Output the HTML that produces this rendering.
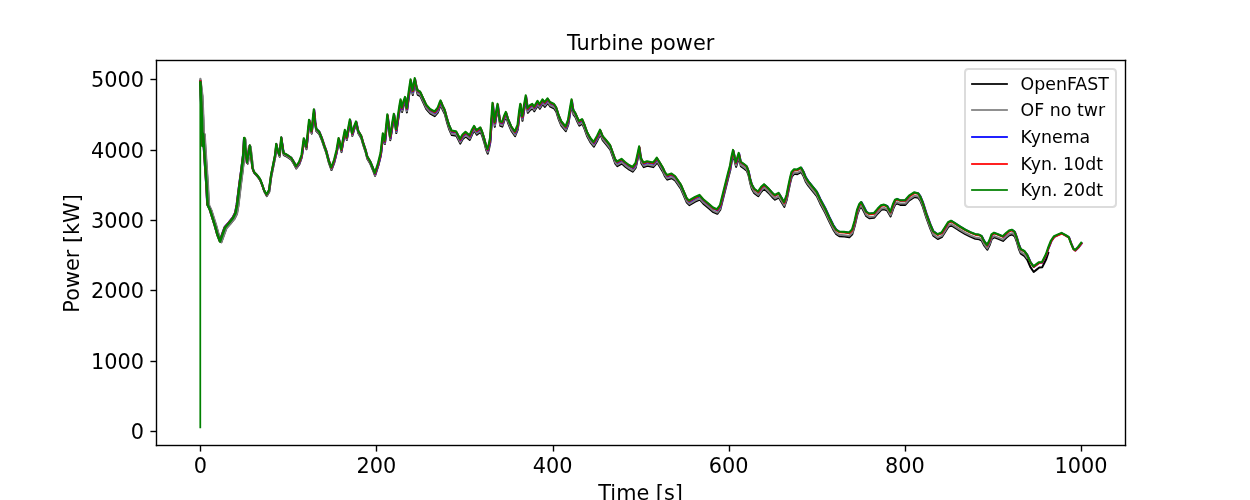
<!DOCTYPE html>
<html lang="en">
<head>
<meta charset="utf-8">
<title>Turbine power</title>
<style>
html,body{margin:0;padding:0;background:#ffffff;}
body{width:1250px;height:500px;overflow:hidden;}
svg{display:block;}
text{font-family:'DejaVu Sans','Liberation Sans',sans-serif;fill:#000000;}
.tick{font-size:20.833px;}
.leg{font-size:17.361px;}
.ln{fill:none;stroke-width:1.74;stroke-linejoin:round;stroke-linecap:square;}
.ax{stroke:#000000;stroke-width:1.39;fill:none;stroke-linecap:square;}
</style>
</head>
<body>
<svg width="1250" height="500" viewBox="0 0 1250 500">
<rect x="0" y="0" width="1250" height="500" fill="#ffffff"/>
<defs><clipPath id="axclip"><rect x="156.25" y="60" width="968.75" height="385"/></clipPath></defs>
<g id="xaxis">
<line class="ax" x1="200.5" y1="445.5" x2="200.5" y2="451.58" style="stroke-linecap:butt"/><text class="tick" x="200.28" y="472.98" text-anchor="middle">0</text>
<line class="ax" x1="376.5" y1="445.5" x2="376.5" y2="451.58" style="stroke-linecap:butt"/><text class="tick" x="376.42" y="472.98" text-anchor="middle">200</text>
<line class="ax" x1="553.5" y1="445.5" x2="553.5" y2="451.58" style="stroke-linecap:butt"/><text class="tick" x="552.56" y="472.98" text-anchor="middle">400</text>
<line class="ax" x1="729.5" y1="445.5" x2="729.5" y2="451.58" style="stroke-linecap:butt"/><text class="tick" x="728.69" y="472.98" text-anchor="middle">600</text>
<line class="ax" x1="905.5" y1="445.5" x2="905.5" y2="451.58" style="stroke-linecap:butt"/><text class="tick" x="904.83" y="472.98" text-anchor="middle">800</text>
<line class="ax" x1="1081.5" y1="445.5" x2="1081.5" y2="451.58" style="stroke-linecap:butt"/><text class="tick" x="1080.97" y="472.98" text-anchor="middle">1000</text>
<text class="tick" x="640.62" y="500.09" text-anchor="middle">Time [s]</text>
</g>
<g id="yaxis">
<line class="ax" x1="156.5" y1="431.5" x2="150.42" y2="431.5" style="stroke-linecap:butt"/><text class="tick" x="144.1" y="438.92" text-anchor="end">0</text>
<line class="ax" x1="156.5" y1="361.5" x2="150.42" y2="361.5" style="stroke-linecap:butt"/><text class="tick" x="144.1" y="368.52" text-anchor="end">1000</text>
<line class="ax" x1="156.5" y1="290.5" x2="150.42" y2="290.5" style="stroke-linecap:butt"/><text class="tick" x="144.1" y="298.12" text-anchor="end">2000</text>
<line class="ax" x1="156.5" y1="220.5" x2="150.42" y2="220.5" style="stroke-linecap:butt"/><text class="tick" x="144.1" y="227.72" text-anchor="end">3000</text>
<line class="ax" x1="156.5" y1="150.5" x2="150.42" y2="150.5" style="stroke-linecap:butt"/><text class="tick" x="144.1" y="158.32" text-anchor="end">4000</text>
<line class="ax" x1="156.5" y1="79.5" x2="150.42" y2="79.5" style="stroke-linecap:butt"/><text class="tick" x="144.1" y="86.92" text-anchor="end">5000</text>
<text class="tick" x="78.8" y="253.4" text-anchor="middle" transform="rotate(-90 78.8 253.4)">Power [kW]</text>
</g>
<g id="lines" clip-path="url(#axclip)">
<path class="ln" stroke="#000000" style="stroke-width:2.2;stroke-linecap:round" d="M200.4 80.4 L202.2 96.42 L203.2 120.43 L203.8 146.44 L204.4 134.45 L205.2 147.46 L205.7 155.47 L206.7 170.48 L207.7 185.5 L208.5 200.51 L208.8 205.51 L211.2 210.55 L213.7 218.59 L216.2 226.62 L218.7 235.66 L221.2 242.2 L224.2 233.75 L226.2 228.28 L230.2 223.84 L234.2 218.9 L236.68 213.93 L238.13 205.96 L240.54 185.99 L242.47 171.03 L244.2 156.08"/>
<path class="ln" stroke="#000000" style="stroke-width:2" d="M244.2 156.08 L245.17 139.2 L246.61 153.14 L247.77 163.66 L249.31 154.2 L250.47 146.63 L251.62 156.26 L253.07 169.29 L254.52 173.33 L257.41 176.4 L260.3 180.47 L262.3 185.51 L264.3 191.56 L266.8 196.12 L269.3 191.68 L271.3 176.72 L273.3 166.77 L275.3 156.82 L276.5 145.74 L277.9 151.88 L279.7 156.72 L281.5 139.36 L282.7 147.99 L283.8 155.01 L287.3 156.9 L291.3 159.69 L293.8 163.75 L296.3 168.51 L299.3 164.38 L301.8 157.41 L304 140.82 L305.3 145.43 L306.5 149.23 L307.9 135.44 L309.3 122.34 L310.6 128.45 L311.7 133.66 L312.9 122.46 L314.1 111.87 L315.3 124.47 L316.3 130.98 L319.3 134 L321.8 140.01 L324.3 147.52 L326.3 153.03 L328.8 162.54 L331.5 170.06 L334.3 162.57 L336.8 152.58 L338.8 140.69 L340.3 146.6 L341.5 152.11 L343.3 141.62 L345.1 132.52 L346.8 140.03 L348.5 130.64 L350.1 122.05 L351.3 129.66 L352.3 135.86 L354.3 129.17 L356.3 124.08 L358.3 133.19 L361.3 138.21 L363.3 145.22 L365.8 152.73 L367.3 158.74 L370.3 163.75 L372.8 169.76 L375.1 175.77 L378.3 165.79 L380.8 155.83 L383.1 136.37 L384.9 144.08 L386.3 130.16 L387.6 117.64 L389.1 130.33 L390.3 140.2 L392.3 127.52 L394.1 117.33 L395.3 125.7 L396.3 133.06 L398.3 118.88 L399.8 108.97 L400.8 103.43 L402.1 111.91 L403.8 105.21 L405.3 101.2 L406.9 112.4 L408.8 97.51 L410.8 84 L411.9 90.6 L412.8 95.1 L413.9 88.6 L415 82.7 L416.3 89.6 L417.8 94.9 L420.3 96.1 L423.3 102.6 L426.3 109.1 L430.3 113.6 L434.8 116.1 L437.8 112.6 L439.5 108.1 L440.8 105.01 L442.8 110.11 L444.8 114.11 L446.8 121.61 L449.3 129.61 L451.8 135.11 L456.3 135.81 L458.3 139.61 L460.3 143.61 L462.8 139.11 L465.8 136.51 L469.8 139.91 L472.3 134.11 L474.3 130.51 L476.8 134.81 L480.6 132.01 L482.3 136.11 L484.3 142.61 L486.1 149.61 L487.7 153.61 L489.1 148.61 L490.3 142.61 L491.5 124.61 L492.8 107.31 L493.9 118.61 L494.8 126.81 L496.3 116.61 L497.8 108.51 L499.1 118.62 L500.3 125.92 L502.3 126.62 L504.3 120.62 L506.1 116.52 L508.3 123.62 L511.3 130.62 L515.1 136.12 L517.8 129.62 L519.3 116.62 L520.6 108.32 L521.6 115.62 L522.5 120.82 L524.3 109.62 L526 100.02 L526.9 106.62 L527.8 112.82 L530.3 109.82 L532.5 108.52 L534.3 111.32 L537.8 105.52 L539.8 108.82 L542.8 104.02 L544.8 106.82 L547.8 103.02 L550.3 106.62 L554.3 108.62 L556.3 111.62 L558.8 119.63 L561.3 125.63 L565.8 131.13 L568.3 124.63 L570.3 112.63 L571.8 104.03 L572.7 110.63 L573.5 114.63 L575.3 116.93 L577.3 121.63 L579.3 125.63 L582.3 123.63 L584.8 129.63 L587.3 136.63 L590.3 142.13 L593.8 146.63 L597.3 140.63 L600.3 134.33 L602.8 140.43 L606.3 144.63 L610.3 149.63 L612.8 156.63 L615.3 163.63 L617.3 166.14 L621.8 163.54 L625.3 166.64 L629.3 169.64 L632.8 171.64 L635.8 167.64 L637.8 158.64 L639.4 151.04 L640.3 157.64 L641.3 163.14 L643.8 167.14 L647.3 165.84 L653.3 167.14 L655.3 164.84 L657.1 162.34 L659.8 166.64 L662.8 171.64 L664.8 176.14 L667.3 179.64 L671.8 178.24 L675.3 180.64 L680.8 188.65 L683.8 195.65 L686.8 202.65 L689.3 205.15 L695.3 201.65 L699.8 199.55 L703.3 203.65 L709.3 208.65 L713.3 212.15 L717.3 213.85 L720.3 209.65 L723.3 197.65 L726.3 185.65 L728.3 177.65 L730.3 170.15 L731.8 161.15 L733.3 154.55 L734.8 161.66 L736.1 166.86 L737.7 161.66 L739 157.56 L740.8 166.16 L744.3 168.66 L746.8 170.66 L748.5 175.16 L750.1 182.66 L751.8 188.66 L754.3 193.16 L758.3 196.16 L761.3 191.66 L764.3 188.86 L768.3 192.66 L772.3 197.16 L775 199.66 L778.8 197.56 L781.3 201.66 L784.3 206.86 L786.8 199.66 L788.8 189.66 L790.5 181.66 L791.8 176.66 L794.3 173.87 L797.3 174.17 L801.1 172.07 L803.3 175.67 L805.7 181.67 L808.3 185.67 L812.3 190.67 L816.8 196.17 L820.3 203.67 L825.3 212.97 L829.3 221.67 L833.3 229.67 L836.3 234.17 L839.3 236.17 L844.3 236.57 L849.3 237.17 L852.3 234.17 L854.8 225.68 L857.3 214.68 L859.6 208.68 L861.4 206.68 L863.8 211.18 L866.3 216.18 L869.3 218.18 L874.3 217.68 L877.8 213.48 L881.3 209.88 L884.3 209.28 L887.3 210.68 L890.6 216.48 L893.3 208.68 L895.3 204.38 L897.3 203.58 L900.3 204.88 L905.3 204.88 L909.3 200.38 L914.3 197.09 L918.3 197.89 L920.3 200.69 L922.8 206.69 L926.3 217.69 L930.3 228.69 L933.3 235.69 L937.8 238.99 L941.8 237.19 L945.3 231.69 L948.3 226.89 L951.3 225.39 L955.3 227.89 L960.3 231.19 L965.3 234.19 L970.3 236.69 L975.3 238.7 L979.3 239.3 L981.8 240.7 L984.3 245.7 L987.3 249.7 L989.8 244.7 L991.8 239 L994.3 237.4 L998.3 238.9 L1003 240.91 L1006.3 237.73 L1009.3 235.34 L1012.1 234.46 L1014.8 236.37 L1016.8 241.78 L1018.8 248.79 L1020.8 253.63 L1024.6 256.06 L1027.3 259.83 L1030.3 266.92 L1033.7 271.98 L1036.3 269.86 L1039.3 267.52 L1042.3 267.18 L1044.7 262.26 L1046.3 258.99 L1048.3 252.89"/>
<path class="ln" stroke="#808080" style="stroke-width:2.2;stroke-linecap:round" d="M200.4 78.9 L202.5 96.22 L203.5 120.23 L204.1 146.24 L204.7 134.25 L205.5 147.26 L206 155.27 L207 170.28 L208 185.3 L208.8 200.31 L209.1 205.31 L211.5 210.35 L214 218.39 L216.5 226.43 L219 235.46 L221.5 242 L224.5 233.54 L226.5 228.07 L230.5 223.63 L234.5 218.69 L236.98 213.73 L238.4 205.75 L240.78 185.79 L242.69 170.83 L244.4 155.86"/>
<path class="ln" stroke="#808080" style="stroke-width:2" d="M244.4 155.86 L245.35 138.98 L246.78 152.91 L247.92 163.43 L249.45 153.96 L250.59 146.38 L251.73 156 L253.16 169.03 L254.59 173.06 L257.44 176.11 L260.3 180.17 L262.3 185.2 L264.3 191.24 L266.8 195.79 L269.3 191.33 L271.3 176.37 L273.3 166.41 L275.3 156.44 L276.5 145.36 L277.9 151.49 L279.7 156.32 L281.5 138.96 L282.7 147.58 L283.8 154.6 L287.3 156.46 L291.3 159.24 L293.8 163.28 L296.3 168.03 L299.3 163.88 L301.8 156.91 L304 140.31 L305.3 144.92 L306.5 148.72 L307.9 134.93 L309.3 121.83 L310.6 127.94 L311.7 133.14 L312.9 121.95 L314.1 111.35 L315.3 123.96 L316.3 130.46 L319.3 133.47 L321.8 139.48 L324.3 146.99 L326.3 152.5 L328.8 162.01 L331.5 169.52 L334.3 162.03 L336.8 152.04 L338.8 140.14 L340.3 146.05 L341.5 151.55 L343.3 141.06 L345.1 131.97 L346.8 139.47 L348.5 130.08 L350.1 121.49 L351.3 129.09 L352.3 135.29 L354.3 128.6 L356.3 123.51 L358.3 132.62 L361.3 137.63 L363.3 144.64 L365.8 152.15 L367.3 158.15 L370.3 163.16 L372.8 169.17 L375.1 175.18 L378.3 165.19 L380.8 155.22 L383.1 135.7 L384.9 143.37 L386.3 129.42 L387.6 116.87 L389.1 129.52 L390.3 139.37 L392.3 126.64 L394.1 116.41 L395.3 124.75 L396.3 132.09 L398.3 117.86 L399.8 107.92 L400.8 102.35 L402.1 110.8 L403.8 104.06 L405.3 100.02 L406.9 111.18 L408.8 96.25 L410.8 82.7 L411.9 89.3 L412.8 93.8 L413.9 87.3 L415 81.4 L416.3 88.3 L417.8 93.6 L420.3 94.8 L423.3 101.3 L426.3 107.8 L430.3 112.3 L434.8 114.8 L437.8 111.3 L439.5 106.8 L440.8 103.71 L442.8 108.81 L444.8 112.81 L446.8 120.31 L449.3 128.31 L451.8 133.81 L456.3 134.51 L458.3 138.31 L460.3 142.31 L462.8 137.81 L465.8 135.21 L469.8 138.61 L472.3 132.81 L474.3 129.21 L476.8 133.51 L480.6 130.71 L482.3 134.81 L484.3 141.31 L486.1 148.31 L487.7 152.31 L489.1 147.31 L490.3 141.31 L491.5 123.31 L492.8 106.01 L493.9 117.31 L494.8 125.51 L496.3 115.31 L497.8 107.21 L499.1 117.32 L500.3 124.62 L502.3 125.32 L504.3 119.32 L506.1 115.22 L508.3 122.32 L511.3 129.32 L515.1 134.82 L517.8 128.32 L519.3 115.32 L520.6 107.02 L521.6 114.32 L522.5 119.52 L524.3 108.32 L526 98.72 L526.9 105.32 L527.8 111.52 L530.3 108.52 L532.5 107.22 L534.3 110.02 L537.8 104.22 L539.8 107.52 L542.8 102.72 L544.8 105.52 L547.8 101.72 L550.3 105.32 L554.3 107.32 L556.3 110.32 L558.8 118.33 L561.3 124.33 L565.8 129.83 L568.3 123.33 L570.3 111.33 L571.8 102.73 L572.7 109.33 L573.5 113.33 L575.3 115.63 L577.3 120.33 L579.3 124.33 L582.3 122.33 L584.8 128.33 L587.3 135.33 L590.3 140.83 L593.8 145.33 L597.3 139.33 L600.3 133.03 L602.8 139.13 L606.3 143.33 L610.3 148.33 L612.8 155.33 L615.3 162.33 L617.3 164.84 L621.8 162.24 L625.3 165.34 L629.3 168.34 L632.8 170.34 L635.8 166.34 L637.8 157.34 L639.4 149.74 L640.3 156.34 L641.3 161.84 L643.8 165.84 L647.3 164.54 L653.3 165.84 L655.3 163.54 L657.1 161.04 L659.8 165.34 L662.8 170.34 L664.8 174.84 L667.3 178.34 L671.8 176.94 L675.3 179.34 L680.8 187.35 L683.8 194.35 L686.8 201.35 L689.3 203.85 L695.3 200.35 L699.8 198.25 L703.3 202.35 L709.3 207.35 L713.3 210.85 L717.3 212.55 L720.3 208.35 L723.3 196.35 L726.3 184.35 L728.3 176.35 L730.3 168.85 L731.8 159.85 L733.3 153.25 L734.8 160.35 L736.1 165.56 L737.7 160.36 L739 156.26 L740.8 164.86 L744.3 167.36 L746.8 169.36 L748.5 173.86 L750.1 181.36 L751.8 187.36 L754.3 191.86 L758.3 194.86 L761.3 190.36 L764.3 187.56 L768.3 191.36 L772.3 195.86 L775 198.36 L778.8 196.26 L781.3 200.36 L784.3 205.56 L786.8 198.36 L788.8 188.36 L790.5 180.36 L791.8 175.36 L794.3 172.57 L797.3 172.87 L801.1 170.77 L803.3 174.37 L805.7 180.37 L808.3 184.37 L812.3 189.37 L816.8 194.87 L820.3 202.37 L825.3 211.67 L829.3 220.37 L833.3 228.37 L836.3 232.87 L839.3 234.87 L844.3 235.27 L849.3 235.87 L852.3 232.87 L854.8 224.38 L857.3 213.38 L859.6 207.38 L861.4 205.38 L863.8 209.88 L866.3 214.88 L869.3 216.88 L874.3 216.38 L877.8 212.18 L881.3 208.58 L884.3 207.98 L887.3 209.38 L890.6 215.18 L893.3 207.38 L895.3 203.08 L897.3 202.28 L900.3 203.58 L905.3 203.58 L909.3 199.08 L914.3 195.79 L918.3 196.59 L920.3 199.39 L922.8 205.39 L926.3 216.39 L930.3 227.39 L933.3 234.39 L937.8 237.69 L941.8 235.89 L945.3 230.39 L948.3 225.59 L951.3 224.09 L955.3 226.59 L960.3 229.89 L965.3 232.89 L970.3 235.39 L975.3 237.4 L979.3 238 L981.8 239.4 L984.3 244.4 L987.3 248.4 L989.8 243.4 L991.8 237.7 L994.3 236.1 L998.3 237.6 L1003 239.6 L1006.3 236.4 L1009.3 234 L1012.1 233.1 L1014.8 235 L1016.8 240.4 L1018.8 247.4 L1020.8 252.2 L1024.6 254.4 L1027.3 258"/>
<path class="ln" stroke="#0000ff" style="stroke-width:2.2;stroke-linecap:round" d="M200.4 81.4 L200.7 95.3 L201.7 119.31 L202.3 145.31 L202.9 133.31 L203.7 146.31 L204.2 154.31 L205.2 169.32 L206.2 184.32 L207 199.32 L207.3 204.32 L209.7 209.33 L212.2 217.33 L214.7 225.34 L217.2 234.35 L219.7 240.86 L222.7 232.36 L224.7 226.87 L228.7 222.38 L232.7 217.39 L235.2 212.4 L236.7 204.5 L239.2 184.75 L241.22 169.95 L243.04 155.01 L244.06 138.11"/>
<path class="ln" stroke="#0000ff" style="stroke-width:2" d="M244.06 138.11 L245.58 152.02 L246.79 162.53 L248.41 153.03 L249.63 145.44 L250.85 155.05 L252.37 168.05 L253.89 172.06 L256.93 175.08 L259.97 179.09 L261.99 184.1 L264.02 190.11 L266.55 194.63 L269.09 190.14 L271.11 175.15 L273.14 165.16 L275.17 155.17 L276.38 144.08 L277.8 150.18 L279.63 154.99 L281.45 137.6 L282.67 146.21 L283.78 153.21 L287.33 155.03 L291.38 157.75 L293.91 161.77 L296.45 166.48 L299.49 162.29 L302 155.31 L304.2 138.74 L305.5 143.35 L306.7 147.16 L308.1 133.38 L309.5 120.29 L310.8 126.4 L311.9 131.61 L313.1 120.43 L314.3 109.84 L315.5 122.45 L316.5 128.96 L319.5 131.99 L322 138.01 L324.5 145.54 L326.5 151.06 L329 160.59 L331.7 168.11 L334.5 160.64 L337 150.66 L339 138.78 L340.5 144.7 L341.7 150.21 L343.5 139.73 L345.3 130.65 L347 138.16 L348.7 128.78 L350.3 120.2 L351.5 127.81 L352.5 134.02 L354.5 127.34 L356.5 122.26 L358.5 131.38 L361.5 136.41 L363.5 143.43 L366 150.96 L367.5 156.97 L370.5 162 L373 168.03 L375.3 174.05 L378.5 164.08 L381 154.1 L383.3 134.53 L385.1 142.15 L386.5 128.16 L387.8 115.57 L389.3 128.19 L390.5 138 L392.5 125.22 L394.3 114.94 L395.5 123.25 L396.5 130.56 L398.5 116.28 L400 106.3 L401 100.7 L402.3 109.1 L404 102.3 L405.5 98.2 L407.1 109.3 L409 94.3 L411 80.7 L412.1 87.3 L413 91.8 L414.1 85.3 L415.2 79.4 L416.5 86.29 L418 91.59 L420.5 92.79 L423.5 99.29 L426.5 105.79 L430.5 110.29 L435 112.79 L438 109.29 L439.7 104.79 L441 101.69 L443 106.79 L445 110.79 L447 118.28 L449.5 126.28 L452 131.78 L456.5 132.48 L458.5 136.28 L460.5 140.28 L463 135.78 L466 133.18 L470 136.58 L472.5 130.78 L474.5 127.18 L477 131.47 L480.8 128.67 L482.5 132.77 L484.5 139.27 L486.3 146.27 L487.9 150.27 L489.3 145.27 L490.5 139.27 L491.7 121.27 L493 103.97 L494.1 115.27 L495 123.47 L496.5 113.27 L498 105.17 L499.3 115.27 L500.5 122.57 L502.5 123.27 L504.5 117.27 L506.3 113.16 L508.5 120.26 L511.5 127.26 L515.3 132.76 L518 126.26 L519.5 113.26 L520.8 104.96 L521.8 112.26 L522.7 117.46 L524.5 106.26 L526.2 96.66 L527.1 103.26 L528 109.46 L530.5 106.46 L532.7 105.16 L534.5 107.96 L538 102.15 L540 105.45 L543 100.65 L545 103.45 L548 99.65 L550.5 103.25 L554.5 105.25 L556.5 108.25 L559 116.25 L561.5 122.25 L566 127.74 L568.5 121.24 L570.5 109.24 L572 100.64 L572.9 107.24 L573.7 111.24 L575.5 113.54 L577.5 118.24 L579.5 122.24 L582.5 120.24 L585 126.24 L587.5 133.24 L590.5 138.74 L594 143.24 L597.5 137.23 L600.5 130.93 L603 137.03 L606.5 141.23 L610.5 146.23 L613 153.23 L615.5 160.23 L617.5 162.73 L622 160.13 L625.5 163.22 L629.5 166.22 L633 168.22 L636 164.22 L638 155.22 L639.6 147.62 L640.5 154.22 L641.5 159.72 L644 163.72 L647.5 162.42 L653.5 163.72 L655.5 161.41 L657.3 158.91 L660 163.21 L663 168.21 L665 172.71 L667.5 176.21 L672 174.81 L675.5 177.21 L681 185.21 L684 192.21 L687 199.2 L689.5 201.7 L695.5 198.2 L700 196.1 L703.5 200.18 L709.5 205.13 L713.5 208.6 L717.5 210.27 L720.5 206.05 L723.5 194.02 L726.5 182 L728.5 173.98 L730.5 166.47 L732 157.46 L733.5 150.85 L735 157.93 L736.3 163.12 L737.9 157.91 L739.2 153.8 L741 162.39 L744.5 164.86 L747 166.84 L748.7 171.33 L750.3 178.82 L752 184.8 L754.5 189.28 L758.5 192.25 L761.5 187.73 L764.5 184.91 L768.5 188.68 L772.5 193.15 L775.2 195.63 L779 193.5 L781.5 197.58 L784.5 202.75 L787 195.53 L789 185.52 L790.7 177.51 L792 172.5 L794.5 169.68 L797.5 169.95 L801.3 167.82 L803.5 171.41 L805.9 177.39 L808.5 181.37 L812.5 186.34 L817 191.8 L820.5 199.28 L825.5 208.54 L829.5 217.21 L833.5 225.2 L836.5 229.71 L839.5 231.71 L844.5 232.12 L849.5 232.73 L852.5 229.73 L855 221.24 L857.5 210.24 L859.8 204.24 L861.6 202.25 L864 206.75 L866.5 211.75 L869.5 213.76 L874.5 213.27 L878 209.07 L881.5 205.48 L884.5 204.88 L887.5 206.28 L890.8 212.09 L893.5 204.29 L895.5 200 L897.5 199.2 L900.5 200.5 L905.5 200.51 L909.5 196.02 L914.5 192.72 L918.5 193.53 L920.5 196.33 L923 202.34 L926.5 213.34 L930.5 224.35 L933.5 231.35 L938 234.66 L942 232.87 L945.5 227.37 L948.5 222.57 L951.5 221.08 L955.5 223.59 L960.5 226.89 L965.5 229.9 L970.5 232.41 L975.5 234.41 L979.5 235.02 L982 236.42 L984.5 241.43 L987.5 245.43 L990 240.44 L992 234.74 L994.5 233.14 L998.5 234.65 L1003.2 236.66 L1006.5 233.46 L1009.5 231.07 L1012.3 230.17 L1015 232.07 L1017 237.48 L1019 244.48 L1021 249.28 L1024.8 251.49 L1027.5 255.09 L1030.5 262 L1033.9 266.9 L1036.5 264.91 L1039.5 262.71 L1042.5 262.51 L1044.9 257.72 L1046.5 254.52 L1048.5 248.52 L1051.5 241.03 L1054.5 236.73 L1058.5 234.94 L1062 233.44 L1065.9 235.55 L1069.2 237.55 L1071.3 243.36 L1073.7 249.16 L1075.5 250.56 L1078.5 247.57 L1081.7 243.37"/>
<path class="ln" stroke="#ff0000" style="stroke-width:2.2;stroke-linecap:round" d="M200.4 81 L200.8 95.6 L201.8 119.61 L202.4 145.61 L203 133.61 L203.8 146.61 L204.3 154.61 L205.3 169.62 L206.3 184.62 L207.1 199.62 L207.4 204.62 L209.8 209.63 L212.3 217.63 L214.8 225.64 L217.3 234.65 L219.8 241.16 L222.8 232.66 L224.8 227.17 L228.8 222.68 L232.8 217.69 L235.3 212.7 L236.8 204.75 L239.3 184.88 L241.31 169.97 L243.13 155.01 L244.14 138.11"/>
<path class="ln" stroke="#ff0000" style="stroke-width:2" d="M244.14 138.11 L245.65 152.02 L246.86 162.53 L248.47 153.03 L249.68 145.44 L250.89 155.05 L252.4 168.05 L253.92 172.06 L256.94 175.08 L259.97 179.09 L261.98 184.1 L264 190.11 L266.52 194.63 L269.04 190.14 L271.06 175.15 L273.07 165.16 L275.09 155.17 L276.3 144.08 L277.71 150.18 L279.53 154.99 L281.34 137.6 L282.55 146.21 L283.66 153.21 L287.19 155.03 L291.23 157.75 L293.75 161.77 L296.27 166.48 L299.29 162.29 L301.8 155.31 L304 138.72 L305.3 143.32 L306.5 147.13 L307.9 133.34 L309.3 120.25 L310.6 126.35 L311.7 131.56 L312.9 120.36 L314.1 109.77 L315.3 122.38 L316.3 128.88 L319.3 131.9 L321.8 137.91 L324.3 145.42 L326.3 150.93 L328.8 160.44 L331.5 167.96 L334.3 160.47 L336.8 150.48 L338.8 138.59 L340.3 144.5 L341.5 150.01 L343.3 139.51 L345.1 130.42 L346.8 137.93 L348.5 128.54 L350.1 119.95 L351.3 127.56 L352.3 133.76 L354.3 127.07 L356.3 121.98 L358.3 131.09 L361.3 136.1 L363.3 143.12 L365.8 150.63 L367.3 156.63 L370.3 161.65 L372.8 167.66 L375.1 173.67 L378.3 163.69 L380.8 153.7 L383.1 134.11 L384.9 141.72 L386.3 127.73 L387.6 115.14 L389.1 127.74 L390.3 137.55 L392.3 124.76 L394.1 114.47 L395.3 122.78 L396.3 130.08 L398.3 115.79 L399.8 105.8 L400.8 100.2 L402.1 108.6 L403.8 101.8 L405.3 97.7 L406.9 108.8 L408.8 93.8 L410.8 80.2 L411.9 86.8 L412.8 91.3 L413.9 84.8 L415 78.9 L416.3 85.8 L417.8 91.09 L420.3 92.29 L423.3 98.79 L426.3 105.29 L430.3 109.79 L434.8 112.29 L437.8 108.79 L439.5 104.29 L440.8 101.19 L442.8 106.29 L444.8 110.29 L446.8 117.79 L449.3 125.79 L451.8 131.29 L456.3 131.98 L458.3 135.78 L460.3 139.78 L462.8 135.28 L465.8 132.68 L469.8 136.08 L472.3 130.28 L474.3 126.68 L476.8 130.98 L480.6 128.18 L482.3 132.28 L484.3 138.78 L486.1 145.78 L487.7 149.78 L489.1 144.77 L490.3 138.77 L491.5 120.77 L492.8 103.47 L493.9 114.77 L494.8 122.97 L496.3 112.77 L497.8 104.67 L499.1 114.77 L500.3 122.07 L502.3 122.77 L504.3 116.77 L506.1 112.67 L508.3 119.77 L511.3 126.77 L515.1 132.27 L517.8 125.77 L519.3 112.77 L520.6 104.47 L521.6 111.77 L522.5 116.97 L524.3 105.76 L526 96.16 L526.9 102.76 L527.8 108.96 L530.3 105.96 L532.5 104.66 L534.3 107.46 L537.8 101.66 L539.8 104.96 L542.8 100.16 L544.8 102.96 L547.8 99.16 L550.3 102.76 L554.3 104.76 L556.3 107.76 L558.8 115.75 L561.3 121.75 L565.8 127.25 L568.3 120.75 L570.3 108.75 L571.8 100.15 L572.7 106.75 L573.5 110.75 L575.3 113.05 L577.3 117.75 L579.3 121.75 L582.3 119.75 L584.8 125.75 L587.3 132.75 L590.3 138.25 L593.8 142.74 L597.3 136.74 L600.3 130.44 L602.8 136.54 L606.3 140.74 L610.3 145.74 L612.8 152.74 L615.3 159.74 L617.3 162.24 L621.8 159.64 L625.3 162.74 L629.3 165.73 L632.8 167.73 L635.8 163.73 L637.8 154.73 L639.4 147.13 L640.3 153.73 L641.3 159.23 L643.8 163.23 L647.3 161.93 L653.3 163.23 L655.3 160.93 L657.1 158.43 L659.8 162.73 L662.8 167.72 L664.8 172.22 L667.3 175.72 L671.8 174.32 L675.3 176.72 L680.8 184.72 L683.8 191.72 L686.8 198.72 L689.3 201.22 L695.3 197.72 L699.8 195.61 L703.3 199.71 L709.3 204.71 L713.3 208.21 L717.3 209.91 L720.3 205.71 L723.3 193.71 L726.3 181.71 L728.3 173.71 L730.3 166.21 L731.8 157.21 L733.3 150.6 L734.8 157.7 L736.1 162.9 L737.7 157.7 L739 153.6 L740.8 162.2 L744.3 164.7 L746.8 166.7 L748.5 171.2 L750.1 178.7 L751.8 184.7 L754.3 189.2 L758.3 192.2 L761.3 187.7 L764.3 184.9 L768.3 188.69 L772.3 193.19 L775 195.69 L778.8 193.59 L781.3 197.69 L784.3 202.89 L786.8 195.69 L788.8 185.69 L790.5 177.69 L791.8 172.69 L794.3 169.89 L797.3 170.19 L801.1 168.09 L803.3 171.68 L805.7 177.68 L808.3 181.68 L812.3 186.68 L816.8 192.18 L820.3 199.68 L825.3 208.98 L829.3 217.68 L833.3 225.68 L836.3 230.18 L839.3 232.17 L844.3 232.57 L849.3 233.17 L852.3 230.17 L854.8 221.67 L857.3 210.67 L859.6 204.67 L861.4 202.67 L863.8 207.17 L866.3 212.17 L869.3 214.17 L874.3 213.66 L877.8 209.46 L881.3 205.86 L884.3 205.26 L887.3 206.66 L890.6 212.46 L893.3 204.66 L895.3 200.36 L897.3 199.56 L900.3 200.86 L905.3 200.86 L909.3 196.35 L914.3 193.05 L918.3 193.85 L920.3 196.65 L922.8 202.65 L926.3 213.65 L930.3 224.65 L933.3 231.65 L937.8 234.95 L941.8 233.15 L945.3 227.64 L948.3 222.84 L951.3 221.34 L955.3 223.84 L960.3 227.14 L965.3 230.14 L970.3 232.64 L975.3 234.64 L979.3 235.23 L981.8 236.63 L984.3 241.63 L987.3 245.63 L989.8 240.63 L991.8 234.93 L994.3 233.33 L998.3 234.83 L1003 236.83 L1006.3 233.63 L1009.3 231.23 L1012.1 230.33 L1014.8 232.22 L1016.8 237.62 L1018.8 244.62 L1020.8 249.42 L1024.6 251.62 L1027.3 255.22 L1030.3 262.12 L1033.7 267.02 L1036.3 265.02 L1039.3 262.82 L1042.3 262.62 L1044.7 257.82 L1046.3 254.62 L1048.3 248.61 L1051.3 241.11 L1054.3 236.81 L1058.3 235.01 L1061.8 233.51 L1065.7 235.61 L1069 237.61 L1071.1 243.41 L1073.5 249.21 L1075.3 250.61 L1078.3 247.61 L1081.5 243.41"/>
<path class="ln" stroke="#008000" style="stroke-width:2.5;stroke-linecap:round" d="M200.4 82.3 L201 96 L202 120 L202.6 146 L203.2 134 L204 147 L204.5 155 L205.5 170 L206.5 185 L207.3 200 L207.6 205 L210 210 L212.5 218 L215 226 L217.5 235 L220 241.5 L223 233 L225 227.5 L229 223 L233 218 L235.5 213 L237 205 L239.5 185 L241.5 170 L243.3 155 L244.3 138.1"/>
<path class="ln" stroke="#008000" d="M200.28 427.5 L200.28 82.3"/><path class="ln" stroke="#008000" style="stroke-width:2.1" d="M244.3 138.1 L245.8 152 L247 162.5 L248.6 153 L249.8 145.4 L251 155 L252.5 168 L254 172 L257 175 L260 179 L262 184 L264 190 L266.5 194.5 L269 190 L271 175 L273 165 L275 155 L276.2 143.9 L277.6 150 L279.4 154.8 L281.2 137.4 L282.4 146 L283.5 153 L287 154.8 L291 157.5 L293.5 161.5 L296 166.2 L299 162 L301.5 155 L303.7 138.4 L305 143 L306.2 146.8 L307.6 133 L309 119.9 L310.3 126 L311.4 131.2 L312.6 120 L313.8 109.4 L315 122 L316 128.5 L319 131.5 L321.5 137.5 L324 145 L326 150.5 L328.5 160 L331.2 167.5 L334 160 L336.5 150 L338.5 138.1 L340 144 L341.2 149.5 L343 139 L344.8 129.9 L346.5 137.4 L348.2 128 L349.8 119.4 L351 127 L352 133.2 L354 126.5 L356 121.4 L358 130.5 L361 135.5 L363 142.5 L365.5 150 L367 156 L370 161 L372.5 167 L374.8 173 L378 163 L380.5 153 L382.8 133.4 L384.6 141 L386 127 L387.3 114.4 L388.8 127 L390 136.8 L392 124 L393.8 113.7 L395 122 L396 129.3 L398 115 L399.5 105 L400.5 99.4 L401.8 107.8 L403.5 101 L405 96.9 L406.6 108 L408.5 93 L410.5 79.4 L411.6 86 L412.5 90.5 L413.6 84 L414.7 78.1 L416 85 L417.5 90.3 L420 91.5 L423 98 L426 104.5 L430 109 L434.5 111.5 L437.5 108 L439.2 103.5 L440.5 100.4 L442.5 105.5 L444.5 109.5 L446.5 117 L449 125 L451.5 130.5 L456 131.2 L458 135 L460 139 L462.5 134.5 L465.5 131.9 L469.5 135.3 L472 129.5 L474 125.9 L476.5 130.2 L480.3 127.4 L482 131.5 L484 138 L485.8 145 L487.4 149 L488.8 144 L490 138 L491.2 120 L492.5 102.7 L493.6 114 L494.5 122.2 L496 112 L497.5 103.9 L498.8 114 L500 121.3 L502 122 L504 116 L505.8 111.9 L508 119 L511 126 L514.8 131.5 L517.5 125 L519 112 L520.3 103.7 L521.3 111 L522.2 116.2 L524 105 L525.7 95.4 L526.6 102 L527.5 108.2 L530 105.2 L532.2 103.9 L534 106.7 L537.5 100.9 L539.5 104.2 L542.5 99.4 L544.5 102.2 L547.5 98.4 L550 102 L554 104 L556 107 L558.5 115 L561 121 L565.5 126.5 L568 120 L570 108 L571.5 99.4 L572.4 106 L573.2 110 L575 112.3 L577 117 L579 121 L582 119 L584.5 125 L587 132 L590 137.5 L593.5 142 L597 136 L600 129.7 L602.5 135.8 L606 140 L610 145 L612.5 152 L615 159 L617 161.5 L621.5 158.9 L625 162 L629 165 L632.5 167 L635.5 163 L637.5 154 L639.1 146.4 L640 153 L641 158.5 L643.5 162.5 L647 161.2 L653 162.5 L655 160.2 L656.8 157.7 L659.5 162 L662.5 167 L664.5 171.5 L667 175 L671.5 173.6 L675 176 L680.5 184 L683.5 191 L686.5 198 L689 200.5 L695 197 L699.5 194.9 L703 199 L709 204 L713 207.5 L717 209.2 L720 205 L723 193 L726 181 L728 173 L730 165.5 L731.5 156.5 L733 149.9 L734.5 157 L735.8 162.2 L737.4 157 L738.7 152.9 L740.5 161.5 L744 164 L746.5 166 L748.2 170.5 L749.8 178 L751.5 184 L754 188.5 L758 191.5 L761 187 L764 184.2 L768 188 L772 192.5 L774.7 195 L778.5 192.9 L781 197 L784 202.2 L786.5 195 L788.5 185 L790.2 177 L791.5 172 L794 169.2 L797 169.5 L800.8 167.4 L803 171 L805.4 177 L808 181 L812 186 L816.5 191.5 L820 199 L825 208.3 L829 217 L833 225 L836 229.5 L839 231.5 L844 231.9 L849 232.5 L852 229.5 L854.5 221 L857 210 L859.3 204 L861.1 202 L863.5 206.5 L866 211.5 L869 213.5 L874 213 L877.5 208.8 L881 205.2 L884 204.6 L887 206 L890.3 211.8 L893 204 L895 199.7 L897 198.9 L900 200.2 L905 200.2 L909 195.7 L914 192.4 L918 193.2 L920 196 L922.5 202 L926 213 L930 224 L933 231 L937.5 234.3 L941.5 232.5 L945 227 L948 222.2 L951 220.7 L955 223.2 L960 226.5 L965 229.5 L970 232 L975 234 L979 234.6 L981.5 236 L984 241 L987 245 L989.5 240 L991.5 234.3 L994 232.7 L998 234.2 L1002.7 236.2 L1006 233 L1009 230.6 L1011.8 229.7 L1014.5 231.6 L1016.5 237 L1018.5 244 L1020.5 248.8 L1024.3 251 L1027 254.6 L1030 261.5 L1033.4 266.4 L1036 264.4 L1039 262.2 L1042 262 L1044.4 257.2 L1046 254 L1048 248 L1051 240.5 L1054 236.2 L1058 234.4 L1061.5 232.9 L1065.4 235 L1068.7 237 L1070.8 242.8 L1073.2 248.6 L1075 250 L1078 247 L1081.2 242.8"/>
</g>
<g id="frame">
<line class="ax" x1="156.5" y1="446.19" x2="156.5" y2="59.81" style="stroke-linecap:butt"/><line class="ax" x1="1125.5" y1="446.19" x2="1125.5" y2="59.81" style="stroke-linecap:butt"/><rect x="155.81" y="444" width="970.39" height="3" fill="#000000" fill-opacity="0.196"/><rect x="155.81" y="445" width="970.39" height="1" fill="#000000"/>
<rect x="155.81" y="59" width="970.39" height="3" fill="#000000" fill-opacity="0.196"/><rect x="155.81" y="60" width="970.39" height="1" fill="#000000"/>
</g>
<text class="tick" x="640.62" y="49.58" text-anchor="middle">Turbine power</text>
<g id="legend">
<path d="M968.47 207 L1112.53 207 Q1116 207 1116 203.53 L1116 72.47 Q1116 69 1112.53 69 L968.47 69 Q965 69 965 72.47 L965 203.53 Q965 207 968.47 207 Z" fill="#ffffff" fill-opacity="0.8" stroke="#cccccc" stroke-width="2" stroke-opacity="0.696" stroke-linejoin="miter"/>
<line x1="971.13" y1="84" x2="1007.87" y2="84" stroke="#000000" stroke-width="2" stroke-opacity="0.87"/><text class="leg" x="1020.62" y="89.88">OpenFAST</text>
<line x1="971.13" y1="110" x2="1007.87" y2="110" stroke="#808080" stroke-width="2" stroke-opacity="0.87"/><text class="leg" x="1020.62" y="115.56">OF no twr</text>
<line x1="971.13" y1="137" x2="1007.87" y2="137" stroke="#0000ff" stroke-width="2" stroke-opacity="0.87"/><text class="leg" x="1020.62" y="143.24">Kynema</text>
<line x1="971.13" y1="164" x2="1007.87" y2="164" stroke="#ff0000" stroke-width="2" stroke-opacity="0.87"/><text class="leg" x="1020.62" y="169.92">Kyn. 10dt</text>
<line x1="971.13" y1="190" x2="1007.87" y2="190" stroke="#008000" stroke-width="2" stroke-opacity="0.87"/><text class="leg" x="1020.62" y="195.6">Kyn. 20dt</text>
</g>
</svg>
</body>
</html>
